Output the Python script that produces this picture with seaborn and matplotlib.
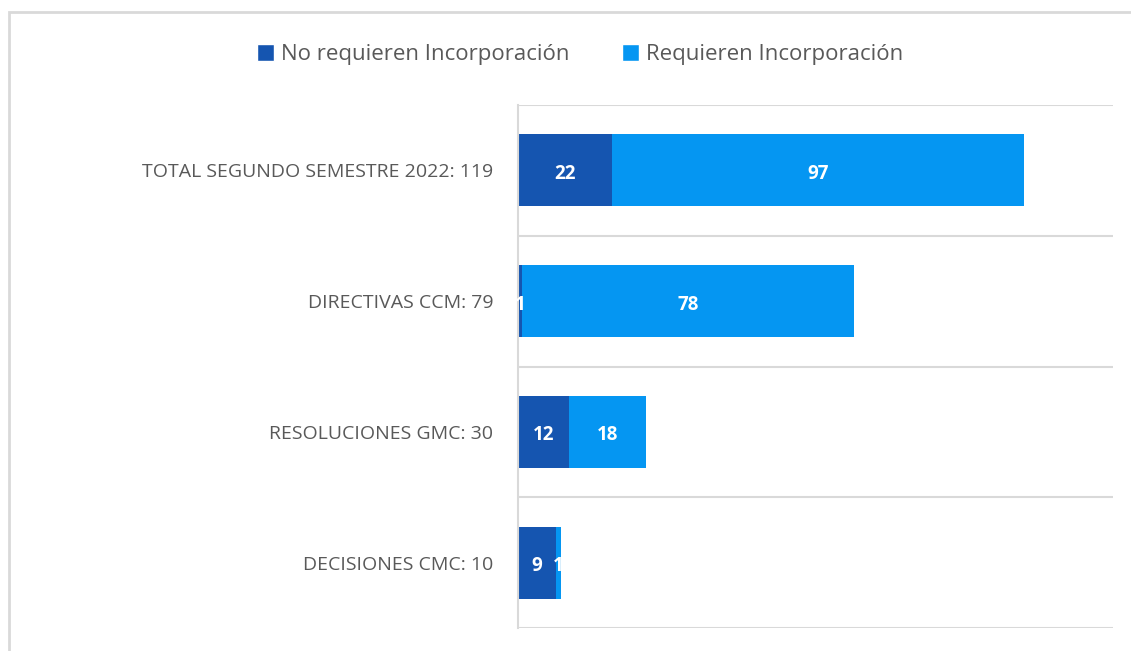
import matplotlib
matplotlib.use("Agg")
import matplotlib.pyplot as plt
import seaborn as sns
import pandas as pd
from matplotlib.patches import Patch, Rectangle

categories = ["TOTAL SEGUNDO SEMESTRE 2022: 119", "DIRECTIVAS CCM: 79",
              "RESOLUCIONES GMC: 30", "DECISIONES CMC: 10"]
no_requieren = [22, 1, 12, 9]
requieren = [97, 78, 18, 1]
series_names = ["No requieren Incorporación", "Requieren Incorporación"]

dark = "#1555B0"
light = "#0596F2"

sns.set_theme(style="white")
plt.rcParams['font.family'] = ['Open Sans', 'DejaVu Sans']

df = pd.DataFrame({"cat": categories, "no": no_requieren, "si": requieren})
df["total"] = df["no"] + df["si"]

fig = plt.figure(figsize=(11.31, 6.51), dpi=100)
ax = fig.add_axes([518/1131, 1-628/651, (1113-518)/1131, (628-105)/651])

sns.barplot(data=df, y="cat", x="total", color=light, orient="h", width=0.55,
            ax=ax, saturation=1, linewidth=0)
sns.barplot(data=df, y="cat", x="no", color=dark, orient="h", width=0.55,
            ax=ax, saturation=1, linewidth=0)

for i, (n, s) in enumerate(zip(no_requieren, requieren)):
    ax.annotate(str(n), (n/2, i), xytext=(0, -2.5), textcoords="offset points",
                ha="center", va="center", color="white",
                fontsize=13.5, fontweight="bold")
    ax.annotate(str(s), (n + s/2, i), xytext=(0, -2.5), textcoords="offset points",
                ha="center", va="center", color="white",
                fontsize=13.5, fontweight="bold")

ax.set_xlim(0, 140)
ax.set_ylim(3.5, -0.5)
ax.set_xlabel("")
ax.set_ylabel("")
ax.set_xticks([])
for b in [-0.5, 0.5, 1.5, 2.5, 3.5]:
    ax.axhline(b, color="#D9D9D9", lw=1.5, zorder=0)
for sp in ["top", "right", "bottom"]:
    ax.spines[sp].set_visible(False)
ax.spines["left"].set_color("#D9D9D9")
ax.spines["left"].set_linewidth(1.5)
ax.tick_params(axis="y", length=0, pad=18, labelsize=14, labelcolor="#595959")

handles = [Patch(facecolor=dark, label=series_names[0]),
           Patch(facecolor=light, label=series_names[1])]
leg = fig.legend(handles=handles, loc="center", bbox_to_anchor=(0.513, 0.916), ncol=2,
                 frameon=False, fontsize=16, handlelength=0.75, handleheight=0.75,
                 handletextpad=0.3, columnspacing=2.4, labelcolor="#595959")

fig.patches.append(Rectangle((9/1131, -0.1), 1.2, 0.1 + 1 - 12/651,
                             transform=fig.transFigure, fill=False,
                             edgecolor="#D9D9D9", lw=2))

fig.savefig("out.png", dpi=100)
